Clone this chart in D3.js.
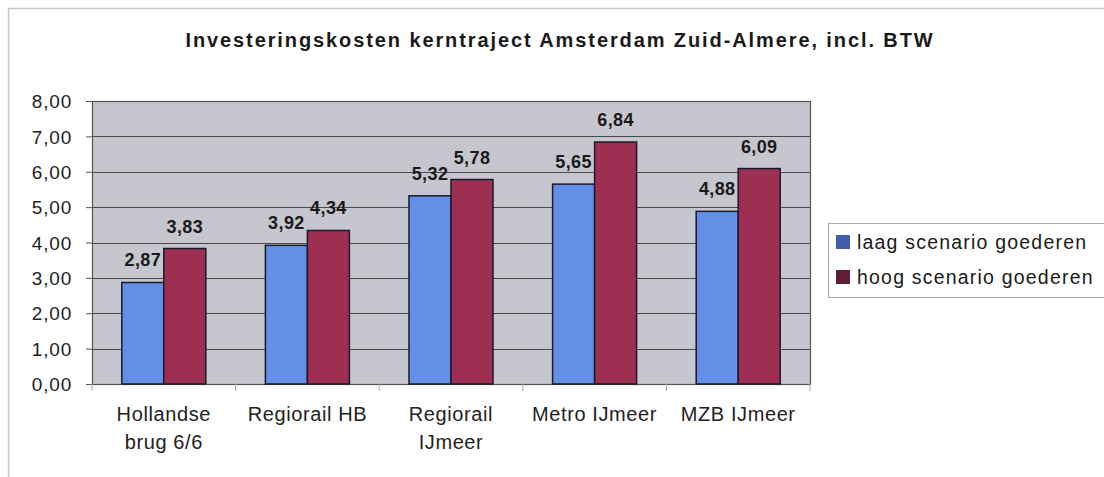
<!DOCTYPE html>
<html>
<head>
<meta charset="utf-8">
<script src="https://cdn.jsdelivr.net/npm/d3@7"></script>
<style>
  body { margin: 0; background: #fff; }
  text { font-family: Arial, "Liberation Sans", sans-serif; }
</style>
</head>
<body>
<div id="chart"></div>
<script>
// data
const categories = [["Hollandse", "brug 6/6"], ["Regiorail HB"], ["Regiorail", "IJmeer"], ["Metro IJmeer"], ["MZB IJmeer"]];
const laag = [2.87, 3.92, 5.32, 5.65, 4.88];
const hoog = [3.83, 4.34, 5.78, 6.84, 6.09];
const seriesNames = ["laag scenario goederen", "hoog scenario goederen"];
const yTicks = [0, 1, 2, 3, 4, 5, 6, 7, 8];

const svgAttr = { width: 1104, height: 477 };
const plot = { left: 92, right: 810, top: 101, bottom: 384 };

const barColors = ["#6290e6", "#9c2f52"];
const legendColors = ["#3f5fa8", "#5e1f33"];

const fmt = v => v.toFixed(2).replace(".", ",");

const svg = d3.select("#chart")
              .append("svg")
              .attr("width", svgAttr.width)
              .attr("height", svgAttr.height);

// outer chart frame
svg.append("path")
   .attr("d", "M8.5,477 L8.5,8.5 L1104,8.5")
   .attr("fill", "none")
   .attr("stroke", "#c8c8c8")
   .attr("stroke-width", 1.5);

// title
svg.append("text")
   .attr("x", 560)
   .attr("y", 47)
   .attr("text-anchor", "middle")
   .attr("font-size", 20)
   .attr("font-weight", "bold")
   .attr("letter-spacing", 1.9)
   .attr("fill", "#1a1a1a")
   .text("Investeringskosten kerntraject Amsterdam Zuid-Almere, incl. BTW");

const keys = categories.map(c => c.join(" "));

const x0 = d3.scaleBand()
             .domain(keys)
             .range([plot.left, plot.right])
             .paddingInner(0.415)
             .paddingOuter(0.2075);

const x1 = d3.scaleBand()
             .domain([0, 1])
             .range([0, x0.bandwidth()]);

const y = d3.scaleLinear()
            .domain([0, 8])
            .range([plot.bottom, plot.top]);

// plot background
svg.append("rect")
   .attr("x", plot.left)
   .attr("y", plot.top)
   .attr("width", plot.right - plot.left)
   .attr("height", plot.bottom - plot.top)
   .attr("fill", "#c6c6ce");

// gridlines
svg.append("g")
   .selectAll("line")
   .data(yTicks)
   .join("line")
   .attr("x1", plot.left)
   .attr("x2", plot.right)
   .attr("y1", d => Math.round(y(d)) + 0.5)
   .attr("y2", d => Math.round(y(d)) + 0.5)
   .attr("stroke", "#4a4a4a")
   .attr("stroke-width", 1);

// plot border
svg.append("rect")
   .attr("x", plot.left + 0.5)
   .attr("y", plot.top + 0.5)
   .attr("width", plot.right - plot.left)
   .attr("height", plot.bottom - plot.top)
   .attr("fill", "none")
   .attr("stroke", "#555")
   .attr("stroke-width", 1.2);

// y axis
const yAxis = svg.append("g")
   .attr("transform", `translate(${plot.left},0)`)
   .call(d3.axisLeft(y).tickValues(yTicks).tickSize(6).tickPadding(14).tickFormat(fmt));
yAxis.select(".domain").attr("stroke", "#555");
yAxis.selectAll(".tick line").attr("stroke", "#555");
yAxis.selectAll(".tick text")
     .attr("font-size", 19)
     .attr("letter-spacing", 0.8)
     .attr("fill", "#222")
     .attr("dy", "0.35em");

// x axis ticks at category boundaries
const boundaries = d3.range(keys.length + 1).map(i => plot.left + i * x0.step());
svg.append("g")
   .selectAll("line")
   .data(boundaries)
   .join("line")
   .attr("x1", d => d)
   .attr("x2", d => d)
   .attr("y1", plot.bottom)
   .attr("y2", plot.bottom + 7)
   .attr("stroke", "#aaa");

// category labels
const catLabels = svg.append("g")
   .selectAll("text")
   .data(categories)
   .join("text")
   .attr("x", (d, i) => x0(keys[i]) + x0.bandwidth() / 2)
   .attr("y", 421)
   .attr("text-anchor", "middle")
   .attr("font-size", 20)
   .attr("letter-spacing", 0.6)
   .attr("fill", "#222");
catLabels.selectAll("tspan")
   .data(d => d)
   .join("tspan")
   .attr("x", function () { return d3.select(this.parentNode).attr("x"); })
   .attr("dy", (d, i) => i === 0 ? 0 : 28)
   .text(d => d);

// bars
const series = [laag, hoog];
series.forEach((vals, s) => {
    svg.append("g")
       .selectAll("rect")
       .data(vals)
       .join("rect")
       .attr("x", (d, i) => x0(keys[i]) + x1(s))
       .attr("y", d => y(d))
       .attr("width", x1.bandwidth())
       .attr("height", d => y(0) - y(d))
       .attr("fill", barColors[s])
       .attr("stroke", "#1a1a2a")
       .attr("stroke-width", 1.5);

    svg.append("g")
       .selectAll("text")
       .data(vals)
       .join("text")
       .attr("x", (d, i) => x0(keys[i]) + x1(s) + x1.bandwidth() / 2)
       .attr("y", d => y(d) - 16)
       .attr("text-anchor", "middle")
       .attr("font-size", 18)
       .attr("font-weight", "bold")
       .attr("letter-spacing", 0.4)
       .attr("fill", "#1a1a1a")
       .text(fmt);
});

// legend
const legend = svg.append("g");
legend.append("rect")
      .attr("x", 828.5)
      .attr("y", 223.5)
      .attr("width", 290)
      .attr("height", 74)
      .attr("fill", "#fff")
      .attr("stroke", "#aaa");
seriesNames.forEach((name, i) => {
    legend.append("rect")
          .attr("x", 836)
          .attr("y", 235 + i * 35)
          .attr("width", 14)
          .attr("height", 14)
          .attr("fill", legendColors[i]);
    legend.append("text")
          .attr("x", 857)
          .attr("y", 249 + i * 35)
          .attr("font-size", 19.5)
          .attr("letter-spacing", 1.2)
          .attr("fill", "#1a1a1a")
          .text(name);
});
</script>
</body>
</html>
